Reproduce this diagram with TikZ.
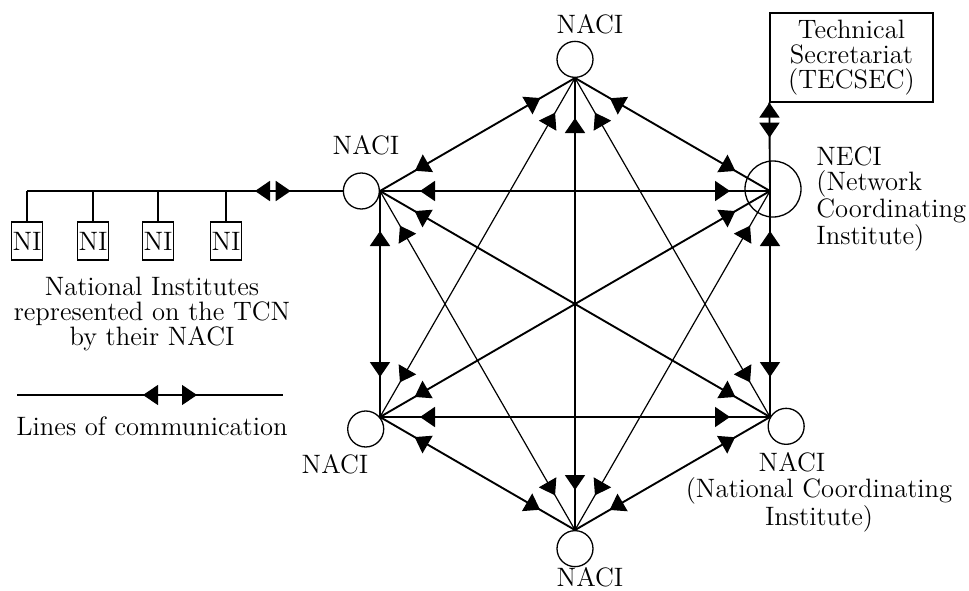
\documentclass[tikz,border=0pt]{standalone}
\usetikzlibrary{arrows.meta,decorations.markings}
\tikzset{tri/.tip={Triangle[length=7.5pt,width=10pt]}}
\begin{document}
\begin{tikzpicture}[x=0.5pt,y=-0.5pt,
  every node/.style={font=\fontsize{13.3}{12.5}\selectfont, inner sep=0pt},
  thickln/.style={line width=0.95pt},
  thinln/.style={line width=0.6pt},
  both/.style={postaction={decorate},decoration={markings,
     mark=at position 20pt with {\arrowreversed{tri}},
     mark=at position -20pt with {\arrow{tri}}}},
  naci/.style={draw, circle, line width=0.65pt, minimum size=18pt},
  nibox/.style={draw, line width=0.65pt, minimum width=15.5pt, minimum height=19pt, inner sep=0.3pt},
  lbl/.style={align=center},
]
\useasboundingbox (0,0) rectangle (969,590);
% hexagon vertices
\coordinate (T) at (575,78);
\coordinate (UL) at (380,191);
\coordinate (UR) at (770,191);
\coordinate (LL) at (380,417);
\coordinate (LR) at (770,417);
\coordinate (B) at (575,530);
% circles
\node[naci, anchor=south] (cT) at (T) {};
\node[naci, anchor=east] (cUL) at (UL) {};
\node[naci, anchor=40] (cLL) at (LL) {};
\node[naci, anchor=north] (cB) at (B) {};
\node[naci, anchor=150] (cLR) at (LR) {};
\node[naci, minimum size=28pt] (cUR) at (773,189) {};
% sides
\draw[thickln,both] (T) -- (UL);
\draw[thickln,both] (UL) -- (LL);
\draw[thickln,both] (LL) -- (B);
\draw[thickln,both] (B) -- (LR);
\draw[thickln,both] (LR) -- (UR);
\draw[thickln,both] (UR) -- (T);
% long diagonals
\draw[thickln,both] (T) -- (B);
\draw[thickln,both] (UL) -- (LR);
\draw[thickln,both] (UR) -- (LL);
% horizontals
\draw[thickln,both] (UL) -- (UR);
\draw[thickln,both] (LL) -- (LR);
% short diagonals
\draw[thinln,both] (T) -- (LL);
\draw[thinln,both] (T) -- (LR);
\draw[thinln,both] (UL) -- (B);
\draw[thinln,both] (UR) -- (B);
% TECSEC
\node[draw, line width=0.65pt, minimum width=81.5pt, minimum height=44.5pt, lbl] (tec) at (851.5,57.5) {Technical\\Secretariat\\(TECSEC)};
\draw[thickln,postaction={decorate},decoration={markings,
     mark=at position 0pt with {\arrowreversed{tri}},
     mark=at position 17.5pt with {\arrow{tri}}}] (tec.south west) -- (UR);
% labels
\node (lT) at (590,24) {NACI};
\node (lUL) at (366,145) {NACI};
\node (lLL) at (335,464) {NACI};
\node (lB) at (590,577) {NACI};
\node (lLR) at (792,462) {NACI};
\node[lbl] (lLR2) at (819,505) {(National Coordinating\\Institute)};
\node[anchor=north west, align=left] (lUR) at (816,146) {NECI\\(Network\\Coordinating\\Institute)};
% NI boxes
\node[nibox] (ni1) at (27,241) {NI};
\node[nibox] (ni2) at (93,241) {NI};
\node[nibox] (ni3) at (158,241) {NI};
\node[nibox] (ni4) at (226,241) {NI};
\coordinate (busL) at (ni1.north |- cUL.west);
\draw[thickln] (ni1.north) -- (busL);
\draw[thickln] (ni2.north) -- (ni2.north |- cUL.west);
\draw[thickln] (ni3.north) -- (ni3.north |- cUL.west);
\draw[thickln] (ni4.north) -- (ni4.north |- cUL.west);
\draw[thickln,postaction={decorate},decoration={markings,
     mark=at position 114pt with {\arrowreversed{tri}},
     mark=at position -26pt with {\arrow{tri}}}] (busL) -- (cUL.west);
\node[lbl] (nitext) at (152,314) {National Institutes\\represented on the TCN\\by their NACI};
% legend
\coordinate (lg1) at (17,395);
\coordinate (lg2) at (283,395);
\draw[thinln,postaction={decorate},decoration={markings,
     mark=at position 63pt with {\arrowreversed{tri}},
     mark=at position -43pt with {\arrow{tri}}}] (lg1) -- (lg2);
\node (lgtext) at (152,426) {Lines of communication};
\end{tikzpicture}
\end{document}
